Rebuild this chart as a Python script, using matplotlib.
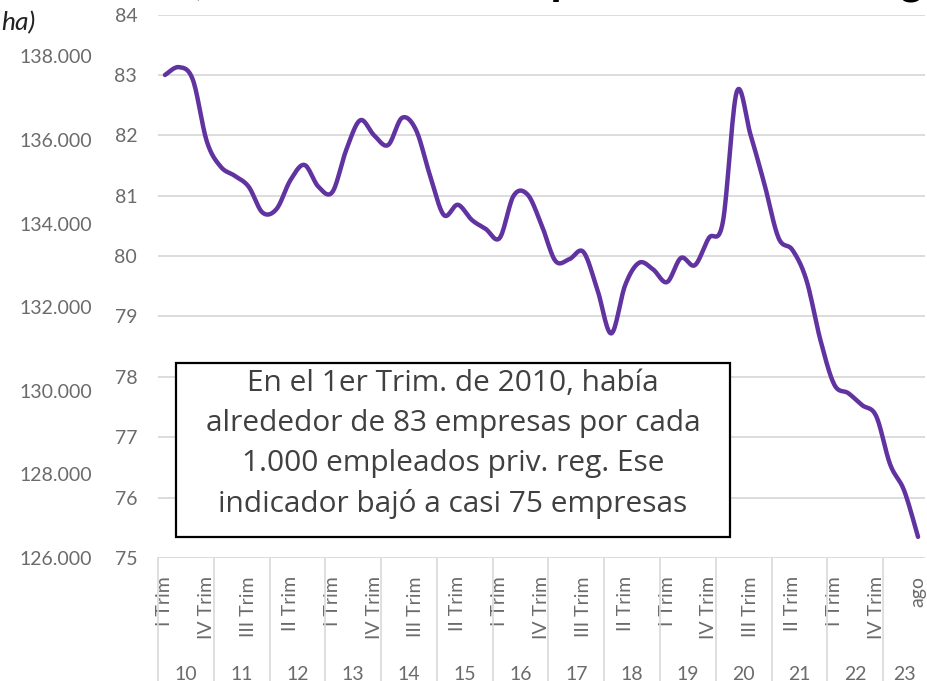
import numpy as np
import matplotlib
matplotlib.use("Agg")
import matplotlib.pyplot as plt
import matplotlib.transforms as mtransforms
from matplotlib.patches import Rectangle
from matplotlib.ticker import FuncFormatter

plt.rcParams['font.family'] = ['Lato', 'DejaVu Sans']

# empresas cada 1.000 empleados privados registrados, trimestral 2010-2023
years = ["10", "11", "12", "13", "14", "15", "16", "17", "18", "19",
         "20", "21", "22", "23"]
periods_per_year = [4, 4, 4, 4, 4, 4, 4, 4, 4, 4, 4, 4, 4, 3]
quarter_names = ["I Trim", "II Trim", "III Trim", "IV Trim"]
last_label = "ago"

values = [83.00, 83.13, 82.92, 81.90, 81.48, 81.33, 81.15, 80.72, 80.78, 81.26,
          81.51, 81.15, 81.06, 81.76, 82.25, 82.00, 81.84, 82.29, 82.09, 81.34,
          80.68, 80.85, 80.60, 80.45, 80.30, 81.00, 81.02, 80.52, 79.92, 79.95,
          80.07, 79.45, 78.72, 79.52, 79.89, 79.78, 79.57, 79.97, 79.85, 80.30,
          80.56, 82.72, 82.00, 81.18, 80.30, 80.10, 79.60, 78.61, 77.87, 77.73,
          77.53, 77.35, 76.55, 76.12, 75.35]

left_ticks = [126000, 128000, 130000, 132000, 134000, 136000, 138000]
right_ticks = [75, 76, 77, 78, 79, 80, 81, 82, 83, 84]

note = ("En el 1er Trim. de 2010, había\n"
        "alrededor de 83 empresas por cada\n"
        "1.000 empleados priv. reg. Ese\n"
        "indicador bajó a casi 75 empresas")

# heading is cut by the crop, only its descenders show
title = "Total de locales, ratio cada mil empleos del sector registrado"

labels = []
for n in periods_per_year:
    labels += quarter_names[:n]
labels[-1] = last_label


def smooth(x, y, n=16):
    # catmull-rom, like excel's smoothed line
    pts = np.column_stack([x, y])
    P = np.vstack([pts[0], pts, pts[-1]])
    t = np.linspace(0, 1, n, endpoint=False)[:, None]
    out = []
    for i in range(len(pts) - 1):
        p0, p1, p2, p3 = P[i], P[i + 1], P[i + 2], P[i + 3]
        out.append(0.5 * (2 * p1 + (-p0 + p2) * t
                          + (2 * p0 - 5 * p1 + 4 * p2 - p3) * t ** 2
                          + (-p0 + 3 * p1 - 3 * p2 + p3) * t ** 3))
    out.append(pts[-1:])
    return np.vstack(out)


W, H = 928, 681
fig = plt.figure(figsize=(W / 100, H / 100), dpi=100)
ax = fig.add_axes([158 / W, (H - 558) / H, 767 / W, 543.4 / H])

x = np.arange(len(values))
curve = smooth(x, values)
ax.plot(curve[:, 0], curve[:, 1], color='#6133a0', lw=3.2,
        solid_capstyle='round', zorder=3)

ax.set_xlim(-0.5, len(values) - 0.5)
ax.set_ylim(75, 84)
ax.set_yticks(right_ticks)
ax.grid(axis='y', color='#dcdcdc', lw=1.4)
ax.set_axisbelow(True)
for s in ax.spines.values():
    s.set_visible(False)
ax.tick_params(axis='y', length=0, pad=15, labelsize=14, labelcolor='#6b6b6b')
ax.set_xticks(x[::3])
ax.set_xticklabels(labels[::3], rotation=90)
ax.tick_params(axis='x', length=0, pad=13, labelsize=14, labelcolor='#6b6b6b')

# left axis (its series is outside the crop)
ax2 = ax.twinx()
ax2.set_ylim(126000, 139000)
ax2.set_yticks(left_ticks)
ax2.yaxis.set_major_formatter(FuncFormatter(lambda v, p: f"{v:,.0f}".replace(",", ".")))
ax2.yaxis.set_ticks_position('left')
for s in ax2.spines.values():
    s.set_visible(False)
ax2.tick_params(axis='y', length=0, pad=47.5, labelsize=14, labelcolor='#6b6b6b')

# year groups under the quarter labels
trans = mtransforms.blended_transform_factory(ax.transData, ax.transAxes)
start = 0
for yr, n in zip(years, periods_per_year):
    ax.plot([start - 0.5, start - 0.5], [0, -0.24], transform=trans,
            color='#d9d9d9', lw=1.2, clip_on=False)
    ax.text(start + (n - 1) / 2, -0.214, yr, transform=trans, ha='center',
            va='center', fontsize=14, color='#6b6b6b')
    start += n

# note box
fig.patches.append(Rectangle((176 / W, (H - 537) / H), 554 / W, 174 / H,
                             transform=fig.transFigure, facecolor='white',
                             edgecolor='black', lw=1.6, zorder=5))
fig.text(453 / W, (H - 444) / H, note, ha='center', va='center',
         fontsize=21.5, color='#404040', linespacing=1.5,
         family=['Open Sans', 'DejaVu Sans'], zorder=6)

fig.text(1 / W, (H - 23) / H, "ha)", ha='left', va='center',
         fontsize=19, style='italic', color='#222222')

# place the heading so the comma and the g land where the crop shows them
renderer = fig.canvas.get_renderer()
tprops = dict(fontsize=24, weight='bold', style='italic')
w1 = fig.text(0, 0, title[:title.index(",")], **tprops).get_window_extent(renderer).width
w2 = fig.text(0, 0, title[:title.index("g")], **tprops).get_window_extent(renderer).width
for t in fig.texts[-2:]:
    t.remove()
k = (905 - 197) / (w2 - w1)
fig.text((197 - w1 * k) / W, (H + 6) / H, title, ha='left', va='baseline',
         fontsize=24 * k, weight='bold', style='italic', color='black')

fig.savefig("out.png", dpi=100)
